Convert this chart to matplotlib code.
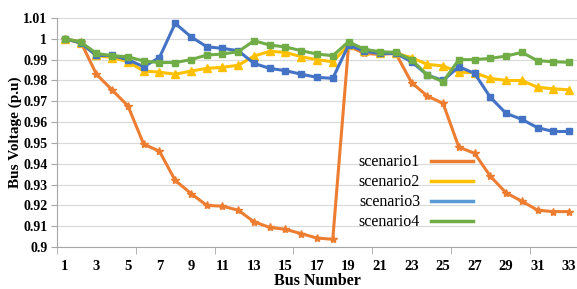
import matplotlib.pyplot as plt
from matplotlib.lines import Line2D
import numpy as np

# Bus voltages per scenario (p.u), buses 1..33
bus = np.arange(1, 34)
scenario1 = [1.000, 0.9986, 0.983, 0.9754, 0.9678, 0.9494, 0.946, 0.932, 0.9257, 0.920,
             0.9196, 0.9177, 0.9121, 0.9094, 0.9085, 0.9064, 0.9043, 0.9037, 0.9965, 0.993,
             0.9925, 0.993, 0.979, 0.9725, 0.969, 0.948, 0.945, 0.934, 0.926, 0.922,
             0.9177, 0.917, 0.917]
scenario2 = [1.000, 0.998, 0.992, 0.991, 0.989, 0.9845, 0.984, 0.983, 0.9845, 0.9858,
             0.9863, 0.9873, 0.9917, 0.994, 0.9935, 0.9914, 0.990, 0.989, 0.997, 0.994,
             0.993, 0.993, 0.991, 0.9877, 0.987, 0.984, 0.9837, 0.981, 0.980, 0.980,
             0.9767, 0.976, 0.9755]
scenario3 = [1.000, 0.998, 0.992, 0.992, 0.990, 0.9866, 0.991, 1.0074, 1.001, 0.9962,
             0.9954, 0.9943, 0.9882, 0.9858, 0.9847, 0.983, 0.9815, 0.981, 0.997, 0.994,
             0.993, 0.993, 0.989, 0.9826, 0.980, 0.9866, 0.9834, 0.9719, 0.9642, 0.9613,
             0.9573, 0.9555, 0.9555]
scenario4 = [1.000, 0.9985, 0.993, 0.9919, 0.9914, 0.9893, 0.9886, 0.9886, 0.990, 0.9922,
             0.9927, 0.9938, 0.9991, 0.997, 0.9961, 0.9943, 0.9927, 0.9919, 0.9986, 0.995,
             0.9938, 0.9935, 0.990, 0.9826, 0.9794, 0.990, 0.990, 0.9906, 0.9917, 0.9935,
             0.9895, 0.989, 0.9887]

yticks = [0.9, 0.91, 0.92, 0.93, 0.94, 0.95, 0.96, 0.97, 0.98, 0.99, 1.0, 1.01]
ylabels = ["0.9", "0.91", "0.92", "0.93", "0.94", "0.95", "0.96", "0.97", "0.98", "0.99", "1", "1.01"]
names = ["scenario1", "scenario2", "scenario3", "scenario4"]

plt.rcParams['font.family'] = ['Liberation Serif', 'DejaVu Serif']

fig = plt.figure(figsize=(5.77, 2.89), dpi=100)
ax = fig.add_axes([0.0988, 0.1453, 0.9012, 0.7924])

ax.plot(bus, scenario1, color="#ED7D31", lw=2.2, marker="*", ms=6, zorder=3)
ax.plot(bus, scenario2, color="#FFC000", lw=2.2, marker="^", ms=5.5, zorder=3)
ax.plot(bus, scenario3, color="#4472C4", lw=2.2, marker="s", ms=5, zorder=3)
ax.plot(bus, scenario4, color="#70AD47", lw=2.2, marker="s", ms=5, zorder=4)

ax.set_xlim(0.5, 33.5)
ax.set_ylim(0.9, 1.01)
ax.set_yticks(yticks)
ax.set_yticklabels(ylabels, fontweight="bold", fontsize=10)
ax.set_xticks(np.arange(1, 34, 2))
ax.set_xticklabels([str(b) for b in range(1, 34, 2)], fontweight="bold", fontsize=10.5)
ax.set_xticks(np.arange(0.5, 34, 5), minor=True)
ax.tick_params(axis="x", which="major", length=0, pad=9)
ax.tick_params(axis="x", which="minor", length=5, color="#a6a6a6", direction="out")
ax.tick_params(axis="y", length=4, color="#a6a6a6", direction="out", pad=3)
ax.grid(axis="y", color="#d9d9d9", lw=0.8)
ax.set_axisbelow(True)
for s in ["top", "right"]:
    ax.spines[s].set_visible(False)
ax.spines["left"].set_color("#a6a6a6")
ax.spines["bottom"].set_color("#a6a6a6")

ax.set_xlabel("Bus Number", fontweight="bold", fontsize=11.5, labelpad=0)
ax.set_ylabel("Bus Voltage (p.u)", fontweight="bold", fontsize=11, labelpad=1)

handles = [Line2D([], [], color=c, lw=2.5) for c in ["#ED7D31", "#FFC000", "#5B9BD5", "#70AD47"]]
ax.legend(handles, names, loc="upper left", bbox_to_anchor=(0.565, 0.44), markerfirst=False,
          frameon=False, fontsize=11.5, handlelength=2.6, labelspacing=0.25,
          borderpad=0, handletextpad=0.7)

fig.savefig("out.png", dpi=100)
